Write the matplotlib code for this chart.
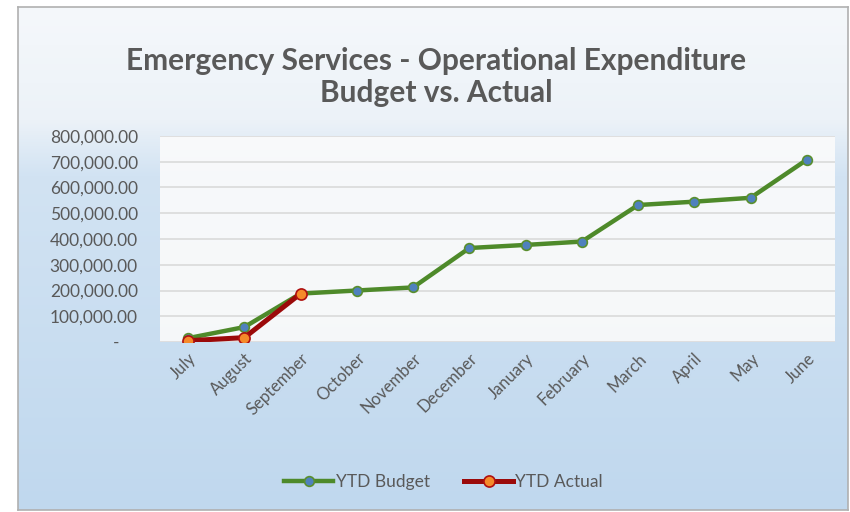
import numpy as np
import matplotlib.pyplot as plt
from matplotlib.ticker import FuncFormatter

# Monthly YTD figures
months = ["July", "August", "September", "October", "November", "December",
          "January", "February", "March", "April", "May", "June"]
ytd_budget = [15000, 58000, 188000, 200000, 212000, 365000,
              377000, 390000, 532000, 545000, 560000, 708000]
ytd_actual = [5000, 17000, 188000]

W, H = 850, 512
fig = plt.figure(figsize=(W / 100, H / 100), dpi=100)

# Chart area background: pale at the top fading into light blue
x0, x1, y0, y1 = 18, 848, 7, 510
bg = fig.add_axes([x0 / W, 1 - y1 / H, (x1 - x0) / W, (y1 - y0) / H], zorder=-10)
rows = np.linspace(y0, y1, 400)
stops = [7, 120, 175, 510]
r = np.interp(rows, stops, [245, 236, 210, 192])
g = np.interp(rows, stops, [248, 242, 227, 216])
b = np.interp(rows, stops, [251, 248, 243, 238])
grad = np.stack([r, g, b], axis=1) / 255
bg.imshow(grad[:, None, :].repeat(2, axis=1), aspect="auto", extent=[0, 1, 0, 1])
bg.set_xticks([])
bg.set_yticks([])
for s in bg.spines.values():
    s.set_color("#b0b0b0")
    s.set_linewidth(1.2)

ax = fig.add_axes([160 / W, 1 - 342 / H, 675 / W, 206 / H])
ax.set_facecolor((0.985, 0.985, 0.985, 0.9))

x = np.arange(len(months))
ax.plot(x, ytd_budget, color="#4e8a2a", linewidth=3.2, marker="o",
        markersize=7, markerfacecolor="#4f81bd", markeredgecolor="#5a8f2e",
        markeredgewidth=1.2, label="YTD Budget", zorder=3)
ax.plot(x[:len(ytd_actual)], ytd_actual, color="#9b0a0a", linewidth=3.6,
        marker="o", markersize=8, markerfacecolor="#f58a2a",
        markeredgecolor="#b01010", markeredgewidth=1.2,
        label="YTD Actual", zorder=4)

ax.set_xlim(-0.5, len(months) - 0.5)
ax.set_ylim(0, 800000)
ax.set_yticks(np.arange(0, 800001, 100000))


def money(v, pos):
    if v == 0:
        return "-    "
    return f"{v:,.2f}"


ax.yaxis.set_major_formatter(FuncFormatter(money))
ax.grid(axis="y", color="#dadada", linewidth=1.2)
ax.set_axisbelow(True)
for s in ax.spines.values():
    s.set_visible(False)
ax.tick_params(length=0, colors="#595959")
ax.tick_params(axis="y", pad=16, labelsize=12.5)
ax.tick_params(axis="x", pad=6, labelsize=12)
ax.set_xticks(x)
ax.set_xticklabels(months, rotation=45, ha="right", rotation_mode="anchor")
for lab in ax.get_xticklabels() + ax.get_yticklabels():
    lab.set_fontfamily("Lato")
    lab.set_color("#595959")

fig.text(0.513, 0.88, "Emergency Services - Operational Expenditure",
         ha="center", va="center", fontsize=21.5, fontweight="bold",
         color="#595959", family="Lato")
fig.text(0.513, 0.818, "Budget vs. Actual", ha="center", va="center",
         fontsize=21.5, fontweight="bold", color="#595959", family="Lato")

leg = fig.legend(loc="center", bbox_to_anchor=(0.522, 0.058), ncol=2,
                 frameon=False, handlelength=2.8,
                 columnspacing=2.0, handletextpad=0.15,
                 prop={"family": "Lato", "size": 12.5})
for txt in leg.get_texts():
    txt.set_color("#595959")

fig.savefig("out.png", dpi=100)
